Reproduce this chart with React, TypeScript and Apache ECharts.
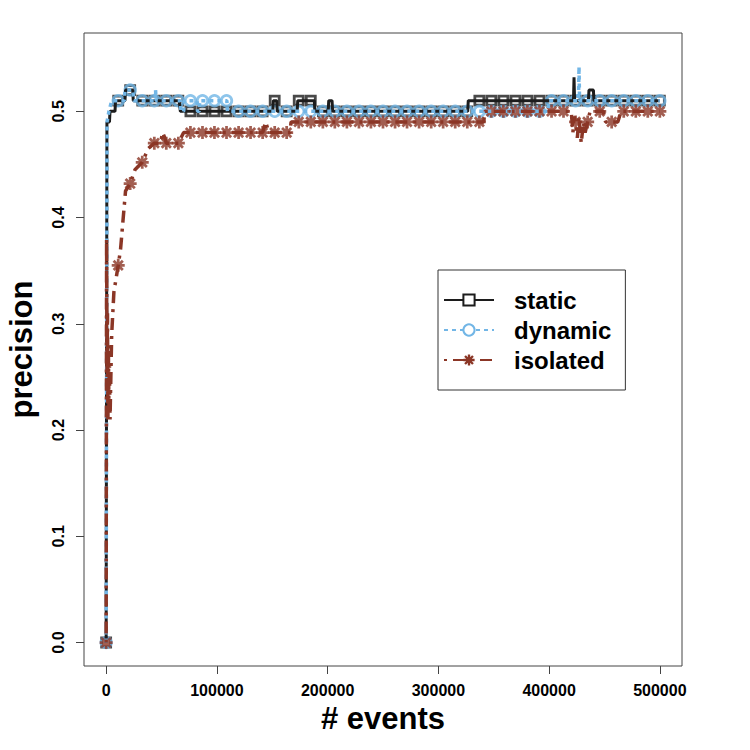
import React, { useEffect, useRef } from "react";
import * as echarts from "echarts";

const seriesNames = ["static", "dynamic", "isolated"];
const xTicks = [0, 100000, 200000, 300000, 400000, 500000];
const yTicks = [0, 0.1, 0.2, 0.3, 0.4, 0.5];

// events at which the plotting symbols sit
const markerEvents = [
  0, 10900, 21700, 32600, 43500, 54300, 65200, 76100, 87000, 97800, 108700,
  119600, 130400, 141300, 152200, 163000, 173900, 184800, 195700, 206500,
  217400, 228300, 239100, 250000, 260900, 271700, 282600, 293500, 304300,
  315200, 326100, 337000, 347800, 358700, 369600, 380400, 391300, 402200,
  413000, 423900, 434800, 445700, 456500, 467400, 478300, 489100, 500000,
];

// static
const staticEvents = [
  0, 700, 3000, 3500, 8000, 8500, 17000, 17500, 24000, 24500, 66000, 67000,
  150500, 151000, 154000, 154500, 172500, 173000, 188000, 188500, 200500,
  201000, 204000, 204500, 326500, 327000, 422000, 422500, 423000, 435500,
  436000, 440000, 440500, 500000,
];
const staticPrecision = [
  0, 0.49, 0.49, 0.5, 0.5, 0.51, 0.51, 0.52, 0.52, 0.51, 0.51, 0.5, 0.5, 0.51,
  0.51, 0.5, 0.5, 0.51, 0.51, 0.5, 0.5, 0.51, 0.51, 0.5, 0.5, 0.51, 0.51,
  0.532, 0.51, 0.51, 0.52, 0.52, 0.51, 0.51,
];
const staticMarks = [
  0, 0.51, 0.52, 0.51, 0.51, 0.51, 0.51, 0.5, 0.5, 0.5, 0.5, 0.5, 0.5, 0.5,
  0.51, 0.5, 0.51, 0.51, 0.5, 0.5, 0.5, 0.5, 0.5, 0.5, 0.5, 0.5, 0.5, 0.5, 0.5,
  0.5, 0.5, 0.51, 0.51, 0.51, 0.51, 0.51, 0.51, 0.51, 0.51, 0.51, 0.51, 0.51,
  0.51, 0.51, 0.51, 0.51, 0.51,
];

// dynamic
const dynamicEvents = [
  0, 800, 2500, 5000, 16500, 17000, 24000, 25000, 44000, 44600, 45200, 67000,
  67500, 70000, 70500, 82000, 82500, 84000, 84500, 109000, 109500, 399000,
  399500, 426500, 427000, 427500, 500000,
];
const dynamicPrecision = [
  0, 0.49, 0.5, 0.51, 0.51, 0.52, 0.52, 0.51, 0.51, 0.52, 0.51, 0.51, 0.5, 0.5,
  0.51, 0.51, 0.5, 0.5, 0.51, 0.51, 0.5, 0.5, 0.51, 0.51, 0.542, 0.51, 0.51,
];
const dynamicMarks = [
  0, 0.51, 0.52, 0.51, 0.51, 0.51, 0.51, 0.51, 0.51, 0.51, 0.51, 0.5, 0.5, 0.5,
  0.5, 0.5, 0.5, 0.5, 0.5, 0.5, 0.5, 0.5, 0.5, 0.5, 0.5, 0.5, 0.5, 0.5, 0.5,
  0.5, 0.5, 0.5, 0.5, 0.5, 0.5, 0.5, 0.5, 0.51, 0.51, 0.51, 0.51, 0.51, 0.51,
  0.51, 0.51, 0.51, 0.51,
];

// isolated
const isolatedEvents = [
  0, 400, 800, 1200, 1600, 2000, 2500, 3000, 3500, 5000, 7000, 10900, 13000,
  17500, 21700, 26000, 32600, 38000, 43500, 49000, 51000, 53000, 54300, 65200,
  70000, 141300, 144000, 147000, 166000, 167000, 341000, 342000, 420000,
  421500, 422500, 423900, 425500, 427000, 429000, 431000, 432500, 434800,
  437000, 449000, 451000, 456500, 462000, 465000, 500000,
];
const isolatedPrecision = [
  0, 0.38, 0.25, 0.31, 0.21, 0.28, 0.22, 0.26, 0.21, 0.29, 0.33, 0.355, 0.37,
  0.425, 0.432, 0.445, 0.452, 0.465, 0.47, 0.47, 0.48, 0.475, 0.47, 0.47, 0.48,
  0.48, 0.49, 0.48, 0.48, 0.49, 0.49, 0.5, 0.5, 0.48, 0.495, 0.49, 0.475,
  0.495, 0.47, 0.49, 0.48, 0.49, 0.5, 0.5, 0.49, 0.49, 0.49, 0.5, 0.5,
];
const isolatedMarks = [
  0, 0.355, 0.432, 0.452, 0.47, 0.47, 0.47, 0.48, 0.48, 0.48, 0.48, 0.48, 0.48,
  0.48, 0.48, 0.48, 0.49, 0.49, 0.49, 0.49, 0.49, 0.49, 0.49, 0.49, 0.49, 0.49,
  0.49, 0.49, 0.49, 0.49, 0.49, 0.49, 0.5, 0.5, 0.5, 0.5, 0.5, 0.5, 0.5, 0.49,
  0.49, 0.5, 0.49, 0.5, 0.5, 0.5, 0.5,
];

const BLACK = "#1c1c1c";
const BLUE = "#72b6e6";
const RED = "#8b3626";
const FONT = "Liberation Sans";

// R's pch 8: a "+" and an "x" on top of each other
const ASTERISK =
  "path://M0 7.9H20V12.1H0Z M7.9 0H12.1V20H7.9Z " +
  "M4.4 1.4L18.6 15.6L15.6 18.6L1.4 4.4Z " +
  "M15.6 1.4L18.6 4.4L4.4 18.6L1.4 15.6Z";

const zip = (xs: number[], ys: number[]) => xs.map((x, i) => [x, ys[i]]);

const line = (name: string, xs: number[], ys: number[], color: string, width: number, dash: any, symbol: string) => ({
  name,
  type: "line",
  data: zip(xs, ys),
  symbol,
  showSymbol: false,
  symbolSize: 10,
  lineStyle: { color, width, type: dash },
  itemStyle: { color },
  silent: true,
});

const marks = (name: string, ys: number[], color: string, symbol: string, size: number, filled: boolean) => ({
  name,
  type: "scatter",
  data: zip(markerEvents, ys),
  symbol,
  symbolSize: size,
  itemStyle: filled
    ? { color }
    : { color: "rgba(0,0,0,0)", borderColor: color, borderWidth: 2.8 },
  silent: true,
});

const App = () => {
  const ref = useRef<HTMLDivElement>(null);
  useEffect(() => {
    const chart = echarts.init(ref.current, null, { renderer: "svg" });
    const tickLabel = { fontFamily: FONT, fontWeight: "bold", fontSize: 16, color: "#000" };
    const title = { fontFamily: FONT, fontWeight: "bold", fontSize: 31, color: "#000" };
    chart.setOption({
      animation: false,
      backgroundColor: "#fff",
      grid: {
        left: 84,
        top: 33,
        right: 68,
        bottom: 84,
        show: true,
        borderColor: "#444",
        borderWidth: 1,
        outerBoundsMode: "none",
      },
      legend: {
        data: seriesNames,
        orient: "vertical",
        left: 438,
        top: 270,
        padding: [18, 14, 18, 5],
        itemGap: 6,
        itemWidth: 50,
        itemHeight: 14,
        borderColor: "#333",
        borderWidth: 1,
        backgroundColor: "#fff",
        selectedMode: false,
        textStyle: { ...tickLabel, fontSize: 24, padding: [0, 0, 0, 15] },
      },
      xAxis: {
        type: "value",
        min: -20000,
        max: 520000,
        name: "# events",
        nameLocation: "middle",
        nameGap: 36,
        nameTextStyle: title,
        axisLine: { show: false, onZero: false },
        axisTick: { show: true, length: 8, customValues: xTicks, lineStyle: { color: "#444" } },
        axisLabel: { customValues: xTicks, margin: 16, formatter: (v: number) => String(v), ...tickLabel },
        splitLine: { show: false },
      },
      yAxis: {
        type: "value",
        min: -0.0221,
        max: 0.5737,
        name: "precision",
        nameLocation: "middle",
        nameGap: 47,
        nameTextStyle: title,
        axisLine: { show: false, onZero: false },
        axisTick: { show: true, length: 8, customValues: yTicks, lineStyle: { color: "#444" } },
        axisLabel: { customValues: yTicks, rotate: 90, margin: 18, formatter: (v: number) => v.toFixed(1), ...tickLabel },
        splitLine: { show: false },
      },
      series: [
        line("static", staticEvents, staticPrecision, BLACK, 3, "solid", "emptyRect"),
        marks("static", staticMarks, BLACK, "rect", 9, false),
        line("dynamic", dynamicEvents, dynamicPrecision, BLUE, 3.5, [4, 4], "emptyCircle"),
        marks("dynamic", dynamicMarks, BLUE, "circle", 10.5, false),
        line("isolated", isolatedEvents, isolatedPrecision, RED, 3.5, [3, 6, 12, 6], ASTERISK),
        marks("isolated", isolatedMarks, RED, ASTERISK, 13, true),
      ],
    });
    return () => {
      chart.dispose();
    };
  }, []);

  return (
    <div
      ref={ref}
      style={{ position: "absolute", left: 0, top: 0, width: 750, height: 750 }}
    ></div>
  );
};

export default App;
